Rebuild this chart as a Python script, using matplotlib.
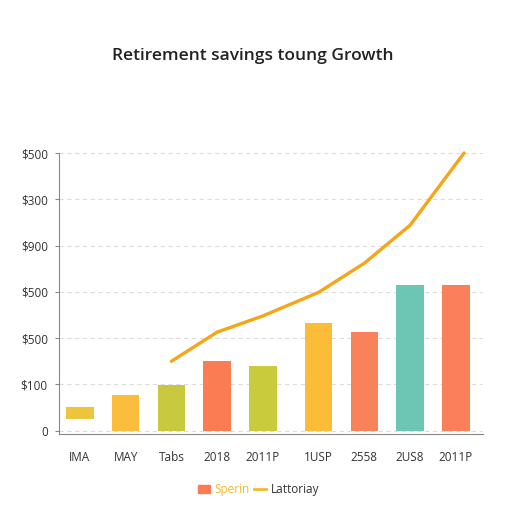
import matplotlib
matplotlib.use("Agg")
import matplotlib.pyplot as plt
from matplotlib.patches import Patch
from matplotlib.lines import Line2D

plt.rcParams["font.family"] = ["Open Sans", "DejaVu Sans"]

categories = ["IMA", "MAY", "Tabs", "2018", "2011P", "1USP", "2558", "2US8", "2011P"]
bar_bottoms = [25, 0, 0, 0, 0, 0, 0, 0, 0]
bar_tops = [51, 77, 98, 150, 139, 232, 213, 314, 314]
bar_colors = ["#EDC53C", "#FBBE3C", "#C8C93E", "#F97C52", "#C9CB3D", "#FBBC38", "#F9825A", "#6DC6B3", "#F9805A"]
line_values = [None, None, 150, 213, 248, 299, 362, 444, 600]
ytick_values = [0, 100, 200, 300, 400, 500, 600]
ytick_labels = ["0", "$100", "$500", "$500", "$900", "$300", "$500"]
title = "Retirement savings toung Growth"
legend_bar = "Sperin"
legend_line = "Lattoriay"

fig = plt.figure(figsize=(5.12, 5.12), dpi=100)
ax = fig.add_axes([0.115, 0.152, 0.828, 0.555])

xs = [i if i < 5 else i + 0.22 for i in range(len(categories))]
heights = [t - b for t, b in zip(bar_tops, bar_bottoms)]
ax.bar(xs, heights, bottom=bar_bottoms, width=0.6, color=bar_colors, zorder=2)

lx = [x for x, v in zip(xs, line_values) if v is not None]
ly = [v for v in line_values if v is not None]
lx[-1] = lx[-1] + 0.18
ax.plot(lx, ly, color="#F5A516", lw=2.4, zorder=3, solid_capstyle="round")

ax.set_xlim(-0.46, xs[-1] + 0.59)
ax.set_ylim(-7.5, 606.5)
ax.set_yticks(ytick_values)
ax.set_yticklabels(ytick_labels, fontsize=8.5, color="#333333")
ax.set_xticks(xs)
ax.set_xticklabels(categories, fontsize=8.5, color="#333333")
ax.tick_params(axis="x", length=0, pad=12)
ax.tick_params(axis="y", length=3, color="#888888", pad=5)
ax.grid(axis="y", linestyle=(0, (4, 3)), color="#dddddd", lw=0.8, zorder=0)
for s in ["top", "right"]:
    ax.spines[s].set_visible(False)
ax.spines["left"].set_color("#888888")
ax.spines["bottom"].set_color("#888888")
ax.spines["left"].set_bounds(-7.5, 600)

fig.text(0.494, 0.891, title, ha="center", va="center", fontsize=12.5,
         fontweight="semibold", color="#222222")

handles = [Patch(color="#F97C52"), Line2D([0], [0], color="#F5B830", lw=2)]
leg = fig.legend(handles, [legend_bar, legend_line], loc="center", bbox_to_anchor=(0.505, 0.043),
                 ncol=2, frameon=False, fontsize=8.5, handlelength=1.0, handletextpad=0.4,
                 columnspacing=0.4)
leg.get_texts()[0].set_color("#F5B830")
leg.get_texts()[1].set_color("#333333")

fig.savefig("out.png", dpi=100, facecolor="white")
